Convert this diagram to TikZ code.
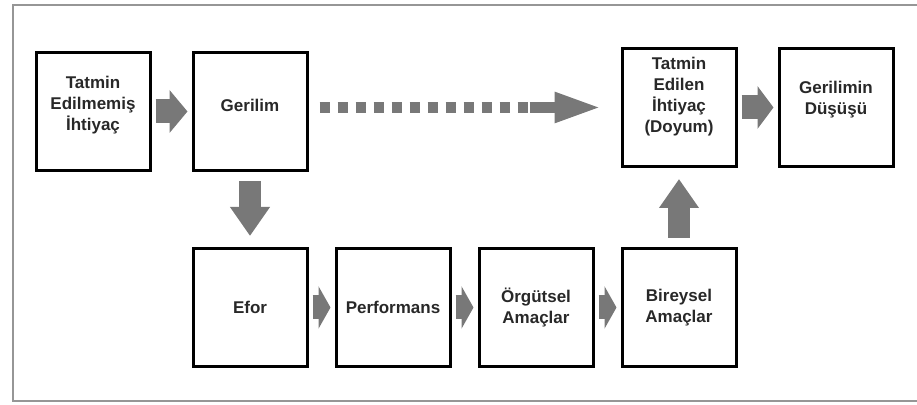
\documentclass[tikz,border=0pt]{standalone}
\usepackage{fontspec}
\setmainfont{Liberation Sans}
\usepackage{tikz}
\usetikzlibrary{arrows.meta, positioning, calc}
\definecolor{ArrowGray}{RGB}{120,120,120}
\definecolor{FrameGray}{RGB}{150,150,150}
\definecolor{TextGray}{RGB}{40,40,40}

\begin{document}
\begin{tikzpicture}[x=1pt, y=1pt,
  box/.style={draw=black, line width=1.5pt, minimum width=57pt, minimum height=59pt,
              font=\bfseries\fontsize{8.5}{10.5}\selectfont, text=TextGray, align=center},
  blk/.style={draw=ArrowGray, line width=12pt, -{Triangle[width=21pt, length=#1]},
              shorten <=2pt, shorten >=2pt},
  blk/.default=9pt,
  vblk/.style={draw=ArrowGray, line width=11pt, -{Triangle[width=19pt, length=14.5pt]},
               shorten <=4.5pt, shorten >=5.5pt},
  dsharr/.style={draw=ArrowGray, line width=5.5pt, dash pattern=on 5pt off 4pt},
  frame/.style={draw=FrameGray, line width=0.6pt},
]
\useasboundingbox (0,0) rectangle (458.5,202.5);
\draw[frame] (458.5,200) -- (6.5,200) -- (6.5,2) -- (458.5,2);

\node[box, text depth=8pt] (ihtiyac) at (46.5,146.75) {Tatmin\\Edilmemiş\\İhtiyaç};
\node[box, text depth=6pt, right=20pt of ihtiyac] (gerilim) {Gerilim};
\node[box, below=37.5pt of gerilim] (efor) {Efor};
\node[box, right=13pt of efor] (perf) {Performans};
\node[box, right=13pt of perf] (orgut) {Örgütsel\\Amaçlar};
\node[box, right=13pt of orgut] (birey) {Bireysel\\Amaçlar};
\node[box, text depth=13pt, above=39.5pt of birey] (doyum) {Tatmin\\Edilen\\İhtiyaç\\(Doyum)};
\node[box, text depth=10pt, right=20pt of doyum] (dusus) {Gerilimin\\Düşüşü};
\coordinate (dsh) at ($(doyum.west)+(-45.5pt,0)$);

\draw[blk] (ihtiyac) -- (gerilim);
\draw[vblk] (gerilim) -- (efor);
\draw[blk=6pt] (efor) -- (perf);
\draw[blk=6pt] (perf) -- (orgut);
\draw[blk=6pt] (orgut) -- (birey);
\draw[vblk] (birey) -- (doyum);
\draw[blk=8pt] (doyum) -- (dusus);
\draw[dsharr, shorten <=5.5pt] (gerilim.east |- doyum.west) -- (dsh);
\draw[draw=ArrowGray, line width=5.5pt, -{Triangle[width=14pt, length=23.5pt]}, shorten >=9.5pt] (dsh) -- (doyum.west);
\end{tikzpicture}
\end{document}
